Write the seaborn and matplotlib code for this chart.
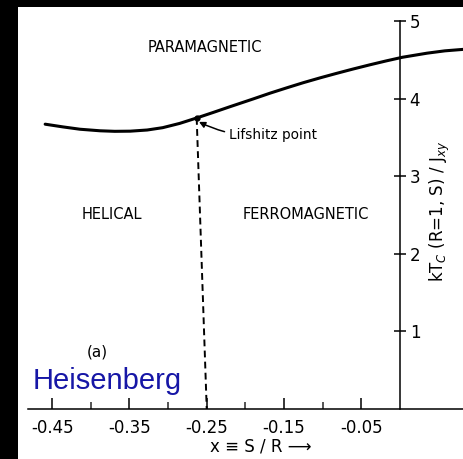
import matplotlib
matplotlib.use("Agg")
import matplotlib.pyplot as plt
from matplotlib.patches import Rectangle
import pandas as pd
import seaborn as sns

# Phase boundary T_c(x) between paramagnetic and ordered phases
boundary_x = [-0.459, -0.436, -0.414, -0.388, -0.369, -0.349, -0.327,
              -0.307, -0.285, -0.263, -0.242, -0.220, -0.211, -0.190,
              -0.168, -0.146, -0.125, -0.103, -0.082, -0.061, -0.039,
              -0.018, 0.003, 0.035, 0.058, 0.083]
boundary_y = [3.670, 3.635, 3.605, 3.585, 3.578, 3.580, 3.595,
              3.625, 3.680, 3.750, 3.820, 3.895, 3.925, 3.995,
              4.070, 4.140, 4.205, 4.268, 4.325, 4.380, 4.435,
              4.485, 4.532, 4.585, 4.615, 4.635]

# Helical / ferromagnetic separatrix starting at the Lifshitz point
lifshitz_x = [-0.263, -0.25]
lifshitz_y = [3.75, 0.0]

x_major = [-0.45, -0.35, -0.25, -0.15, -0.05]
x_major_labels = ["-0.45", "-0.35", "-0.25", "-0.15", "-0.05"]
x_minor = [-0.40, -0.30, -0.20, -0.10]
y_ticks = [1, 2, 3, 4, 5]
y_tick_labels = ["1", "2", "3", "4", "5"]

sns.set_style("white")
plt.rcParams["font.family"] = ["DejaVu Sans"]
plt.rcParams["text.color"] = "black"

W, H = 464, 459
fig = plt.figure(figsize=(W / 100, H / 100), dpi=100)
fig.patch.set_facecolor("black")
fig.add_artist(Rectangle((18 / W, 0), 1, 1 - 7 / H, transform=fig.transFigure,
                         facecolor="white", edgecolor="none", zorder=-1))

ax = fig.add_axes([28 / W, 50 / H, 436 / W, 402 / H])
ax.patch.set_alpha(0)

curve = pd.DataFrame({"x": boundary_x, "y": boundary_y})
sep = pd.DataFrame({"x": lifshitz_x, "y": lifshitz_y})
sns.lineplot(data=curve, x="x", y="y", ax=ax, color="black", lw=2.2,
             sort=False, estimator=None)
ax.lines[-1].set_solid_joinstyle("round")
ax.lines[-1].set_solid_capstyle("round")
sns.lineplot(data=sep, x="x", y="y", ax=ax, color="black", lw=1.4,
             sort=False, estimator=None, dashes=False)
ax.lines[-1].set_dashes((3.5, 2.2))
ax.plot([lifshitz_x[0]], [lifshitz_y[0]], "o", color="black", ms=3.5)

ax.set_xlim(-0.4812, 0.0828)
ax.set_ylim(0, 5.18)
ax.set_xlabel("")
ax.set_ylabel("")

for s in ("top", "left"):
    ax.spines[s].set_visible(False)
ax.spines["bottom"].set_linewidth(1.1)
ax.spines["bottom"].set_color("black")
ax.spines["right"].set_position(("data", 0))
ax.spines["right"].set_bounds(0, 5)
ax.spines["right"].set_linewidth(1.1)
ax.spines["right"].set_color("black")

ax.yaxis.set_ticks_position("right")
ax.set_yticks(y_ticks)
ax.set_yticklabels(y_tick_labels)
ax.tick_params(axis="y", direction="inout", length=8, width=1.1, pad=3,
               labelsize=12, colors="black")

ax.set_xticks(x_major)
ax.set_xticklabels(x_major_labels)
ax.set_xticks(x_minor, minor=True)
ax.tick_params(axis="x", which="major", direction="in", length=8, width=1.1,
               pad=7, labelsize=12, colors="black", bottom=True, top=False)
ax.tick_params(axis="x", which="minor", direction="in", length=5, width=1.1,
               bottom=True, top=False)

# Axis titles
ax.text(0.0517, 2.55, r"kT$_C$ (R=1, S) / J$_{xy}$", rotation=90,
        ha="center", va="center", fontsize=12, color="black", clip_on=False)
ax.text(-0.180, -0.477, "x ≡ S / R ⟶", ha="center", va="center",
        fontsize=12, color="black", clip_on=False)

# Phase labels
ax.text(-0.252, 4.66, "PARAMAGNETIC", ha="center", va="center", fontsize=10.5,
        color="black")
ax.text(-0.373, 2.50, "HELICAL", ha="center", va="center", fontsize=10.5,
        color="black")
ax.text(-0.122, 2.50, "FERROMAGNETIC", ha="center", va="center", fontsize=10.5,
        color="black")
ax.annotate("Lifshitz point", xy=(-0.260, 3.70), xytext=(-0.221, 3.53),
            ha="left", va="center", fontsize=9.8, color="black",
            arrowprops=dict(arrowstyle="-|>", color="black", lw=1.1,
                            mutation_scale=9, shrinkA=1, shrinkB=0,
                            connectionstyle="arc3,rad=-0.15"))
ax.text(-0.392, 0.73, "(a)", ha="center", va="center", fontsize=11,
        color="black")
ax.text(-0.475, 0.258, "Heisenberg", ha="left", va="baseline",
        fontsize=21, color="#1616a6", family=["Liberation Sans", "DejaVu Sans"])

fig.savefig("out.png", dpi=100, facecolor=fig.get_facecolor())
